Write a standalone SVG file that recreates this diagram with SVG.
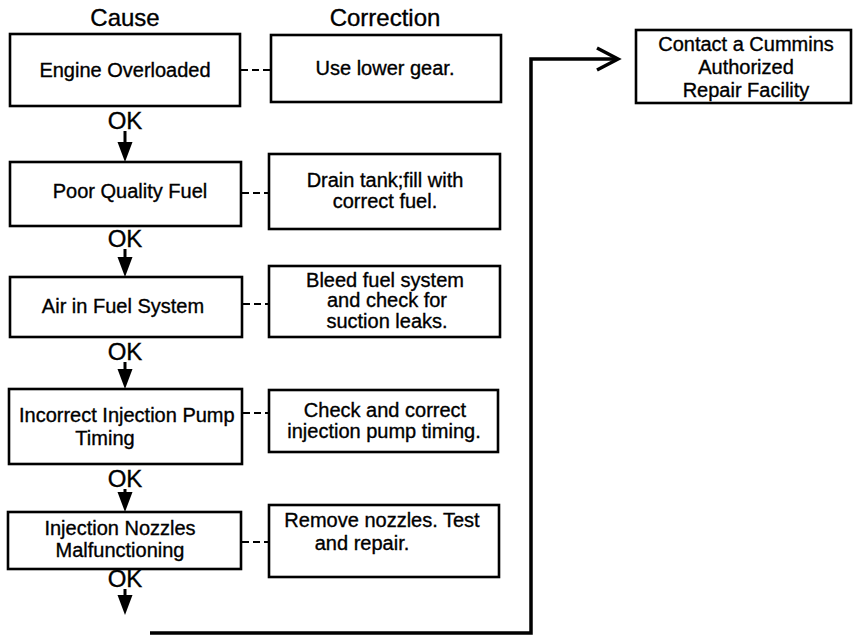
<svg xmlns="http://www.w3.org/2000/svg" width="856" height="635" viewBox="0 0 856 635">
  <style>
    .box { fill: #fff; stroke: #000; stroke-width: 2.6; }
    text { font-family: "Liberation Sans", Arial, sans-serif; fill: #000; stroke: #000; stroke-width: 0.35; }
    .t { font-size: 20px; }
    .c { text-anchor: middle; }
    .hdr { font-size: 24px; text-anchor: middle; }
    .ok { font-size: 24px; text-anchor: middle; }
    .dash { stroke: #000; stroke-width: 2; stroke-dasharray: 7 4; fill: none; }
    .flow { stroke: #000; stroke-width: 3; fill: none; }
    .head { fill: #000; stroke: none; }
    .route { stroke: #000; stroke-width: 3.5; fill: none; }
  </style>
  <defs>
    <!-- downward arrowhead, tip at origin -->
    <path id="down" class="head" d="M-7.5,-20 L7.5,-20 L0,0 Z"/>
  </defs>

  <rect width="856" height="635" fill="#fff"/>

  <!-- column headings -->
  <text class="hdr" x="125" y="26">Cause</text>
  <text class="hdr" x="385" y="26">Correction</text>

  <!-- cause boxes -->
  <g id="cause1">
    <rect class="box" x="10" y="34" width="230" height="72"/>
    <text class="t c" x="125" y="77">Engine Overloaded</text>
  </g>
  <g id="cause2">
    <rect class="box" x="10" y="162" width="231" height="64"/>
    <text class="t c" x="130" y="198">Poor Quality Fuel</text>
  </g>
  <g id="cause3">
    <rect class="box" x="10" y="277" width="232" height="60"/>
    <text class="t c" x="123" y="313">Air in Fuel System</text>
  </g>
  <g id="cause4">
    <rect class="box" x="9" y="389" width="233" height="75"/>
    <text class="t" x="19" y="422">Incorrect Injection Pump</text>
    <text class="t c" x="105" y="445">Timing</text>
  </g>
  <g id="cause5">
    <rect class="box" x="8" y="512" width="233" height="57"/>
    <text class="t c" x="120" y="535">Injection Nozzles</text>
    <text class="t c" x="120" y="557">Malfunctioning</text>
  </g>

  <!-- correction boxes -->
  <g id="fix1">
    <rect class="box" x="271" y="35" width="230" height="67"/>
    <text class="t c" x="385" y="75">Use lower gear.</text>
  </g>
  <g id="fix2">
    <rect class="box" x="269" y="154" width="231" height="75"/>
    <text class="t c" x="385" y="187">Drain tank;fill with</text>
    <text class="t c" x="385" y="208">correct fuel.</text>
  </g>
  <g id="fix3">
    <rect class="box" x="269" y="266" width="231" height="71"/>
    <text class="t c" x="385" y="287">Bleed fuel system</text>
    <text class="t c" x="387" y="307">and check for</text>
    <text class="t c" x="387" y="328">suction leaks.</text>
  </g>
  <g id="fix4">
    <rect class="box" x="269" y="390" width="229" height="62"/>
    <text class="t c" x="385" y="417">Check and correct</text>
    <text class="t c" x="384" y="438">injection pump timing.</text>
  </g>
  <g id="fix5">
    <rect class="box" x="269" y="505" width="230" height="72"/>
    <text class="t c" x="382" y="527">Remove nozzles. Test</text>
    <text class="t c" x="362" y="550">and repair.</text>
  </g>

  <!-- final step -->
  <g id="dealer">
    <rect class="box" x="636" y="30" width="215" height="73"/>
    <text class="t c" x="746" y="51">Contact a Cummins</text>
    <text class="t c" x="746" y="74">Authorized</text>
    <text class="t c" x="746" y="97">Repair Facility</text>
  </g>

  <!-- connectors -->
  <g id="connectors">
    <line class="dash" x1="241" y1="70" x2="270" y2="70"/>
    <line class="dash" x1="242" y1="193" x2="268" y2="193"/>
    <line class="dash" x1="243" y1="304" x2="268" y2="304"/>
    <line class="dash" x1="243" y1="413" x2="268" y2="413"/>
    <line class="dash" x1="242" y1="542" x2="268" y2="542"/>

    <text class="ok" x="125" y="129">OK</text>
    <line class="flow" x1="125" y1="131" x2="125" y2="145"/>
    <use href="#down" x="125" y="162"/>
    <text class="ok" x="125" y="247">OK</text>
    <line class="flow" x1="125" y1="249" x2="125" y2="260"/>
    <use href="#down" x="125" y="277"/>
    <text class="ok" x="125" y="360">OK</text>
    <line class="flow" x1="125" y1="362" x2="125" y2="371"/>
    <use href="#down" x="125" y="389"/>
    <text class="ok" x="125" y="487">OK</text>
    <line class="flow" x1="125" y1="489" x2="125" y2="495"/>
    <use href="#down" x="125" y="512"/>
    <text class="ok" x="125" y="587">OK</text>
    <line class="flow" x1="125" y1="589" x2="125" y2="598"/>
    <use href="#down" x="125" y="615"/>

    <polyline class="route" points="150,633 531,633 531,59 617,59"/>
    <polyline class="route" points="597,48 618,59 597,70"/>
  </g>
</svg>
